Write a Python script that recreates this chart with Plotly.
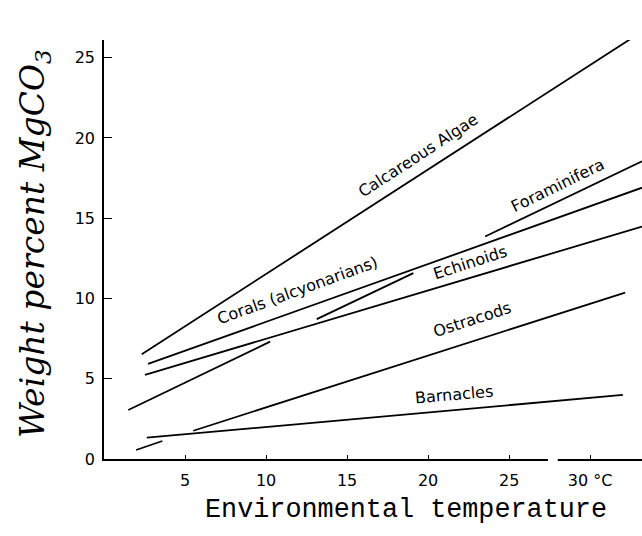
import plotly.graph_objects as go

# Trend lines of MgCO3 content against temperature (°C, weight % MgCO3).
# A None splits a line into separate dashes.
algae_t = [2.33, 32.7]
algae_mg = [6.53, 26.3]
corals_t = [2.72, 33.2]
corals_mg = [5.92, 16.9]
echinoid_t = [2.53, 33.2]
echinoid_mg = [5.24, 14.48]
foram_t = [1.5, 10.25, None, 13.13, 19.09, None, 23.52, 33.2]
foram_mg = [3.05, 7.31, None, 8.71, 11.58, None, 13.86, 18.54]
ostracod_t = [1.98, 3.6, None, 5.51, 32.16]
ostracod_mg = [0.56, 1.12, None, 1.76, 10.37]
barnacle_t = [2.64, 32.02]
barnacle_mg = [1.33, 3.99]

group_names = ["Calcareous Algae", "Corals (alcyonarians)", "Echinoids",
               "Foraminifera", "Ostracods", "Barnacles"]

x_tickvals = [5, 10, 15, 20, 25, 30]
x_ticktext = ["5", "10", "15", "20", "25", "30 °C"]
y_tickvals = [0, 5, 10, 15, 20, 25]

x_max = 33.2
y_max = 26.1
axis_gap = [27.4, 28.0]  # break in the printed temperature axis

series = [
    (algae_t, algae_mg),
    (corals_t, corals_mg),
    (echinoid_t, echinoid_mg),
    (foram_t, foram_mg),
    (ostracod_t, ostracod_mg),
    (barnacle_t, barnacle_mg),
]

fig = go.Figure()
for name, (t, mg) in zip(group_names, series):
    fig.add_trace(go.Scatter(
        x=t, y=mg, mode="lines", name=name,
        line=dict(color="black", width=1.8),
        connectgaps=False, cliponaxis=False,
        showlegend=False, hoverinfo="skip",
    ))

# in-line labels: (temperature, MgCO3, rotation)
label_places = [
    (19.38, 18.89, -33),
    (11.91, 10.47, -20),
    (22.59, 12.22, -18),
    (27.98, 17.05, -26),
    (22.72, 8.67, -18),
    (21.6, 3.99, -5),
]
for name, (lx, ly, ang) in zip(group_names, label_places):
    fig.add_annotation(
        x=lx, y=ly, xref="x", yref="y", text=name, showarrow=False,
        textangle=ang, xanchor="center", yanchor="middle",
        font=dict(family="DejaVu Sans", size=16, color="black"),
    )

# axis titles
fig.add_annotation(
    xref="paper", yref="paper", x=-0.13, y=0.513,
    text="Weight percent MgCO<sub>3</sub>", showarrow=False, textangle=-90,
    xanchor="center", yanchor="middle",
    font=dict(family="DejaVu Serif", size=33, color="black", style="italic"),
)
fig.add_annotation(
    xref="paper", yref="paper", x=0.561, y=-0.122,
    text="Environmental temperature", showarrow=False,
    xanchor="center", yanchor="middle",
    font=dict(family="Liberation Mono", size=26.8, color="black"),
)

# white break across the temperature axis
fig.add_shape(
    type="rect", xref="paper", yref="paper", layer="above",
    x0=axis_gap[0] / x_max, x1=axis_gap[1] / x_max, y0=-0.012, y1=0.004,
    fillcolor="white", line=dict(width=0),
)

tick_font = dict(family="DejaVu Sans", size=16, color="black")
fig.update_layout(
    width=642, height=536,
    margin=dict(l=104, r=0, t=40, b=77),
    paper_bgcolor="white", plot_bgcolor="white",
    xaxis=dict(
        range=[0, x_max], showgrid=False, zeroline=False,
        showline=True, linecolor="black", linewidth=1.6,
        ticks="inside", ticklen=4, tickwidth=1.4, tickcolor="black",
        tickvals=x_tickvals, ticktext=x_ticktext,
        tickfont=tick_font, ticklabelstandoff=6,
    ),
    yaxis=dict(
        range=[0, y_max], showgrid=False, zeroline=False,
        showline=True, linecolor="black", linewidth=1.6,
        ticks="inside", ticklen=8, tickwidth=1.4, tickcolor="black",
        tickvals=y_tickvals, tickfont=tick_font, ticklabelstandoff=4,
    ),
)

fig.write_html("out.html")
